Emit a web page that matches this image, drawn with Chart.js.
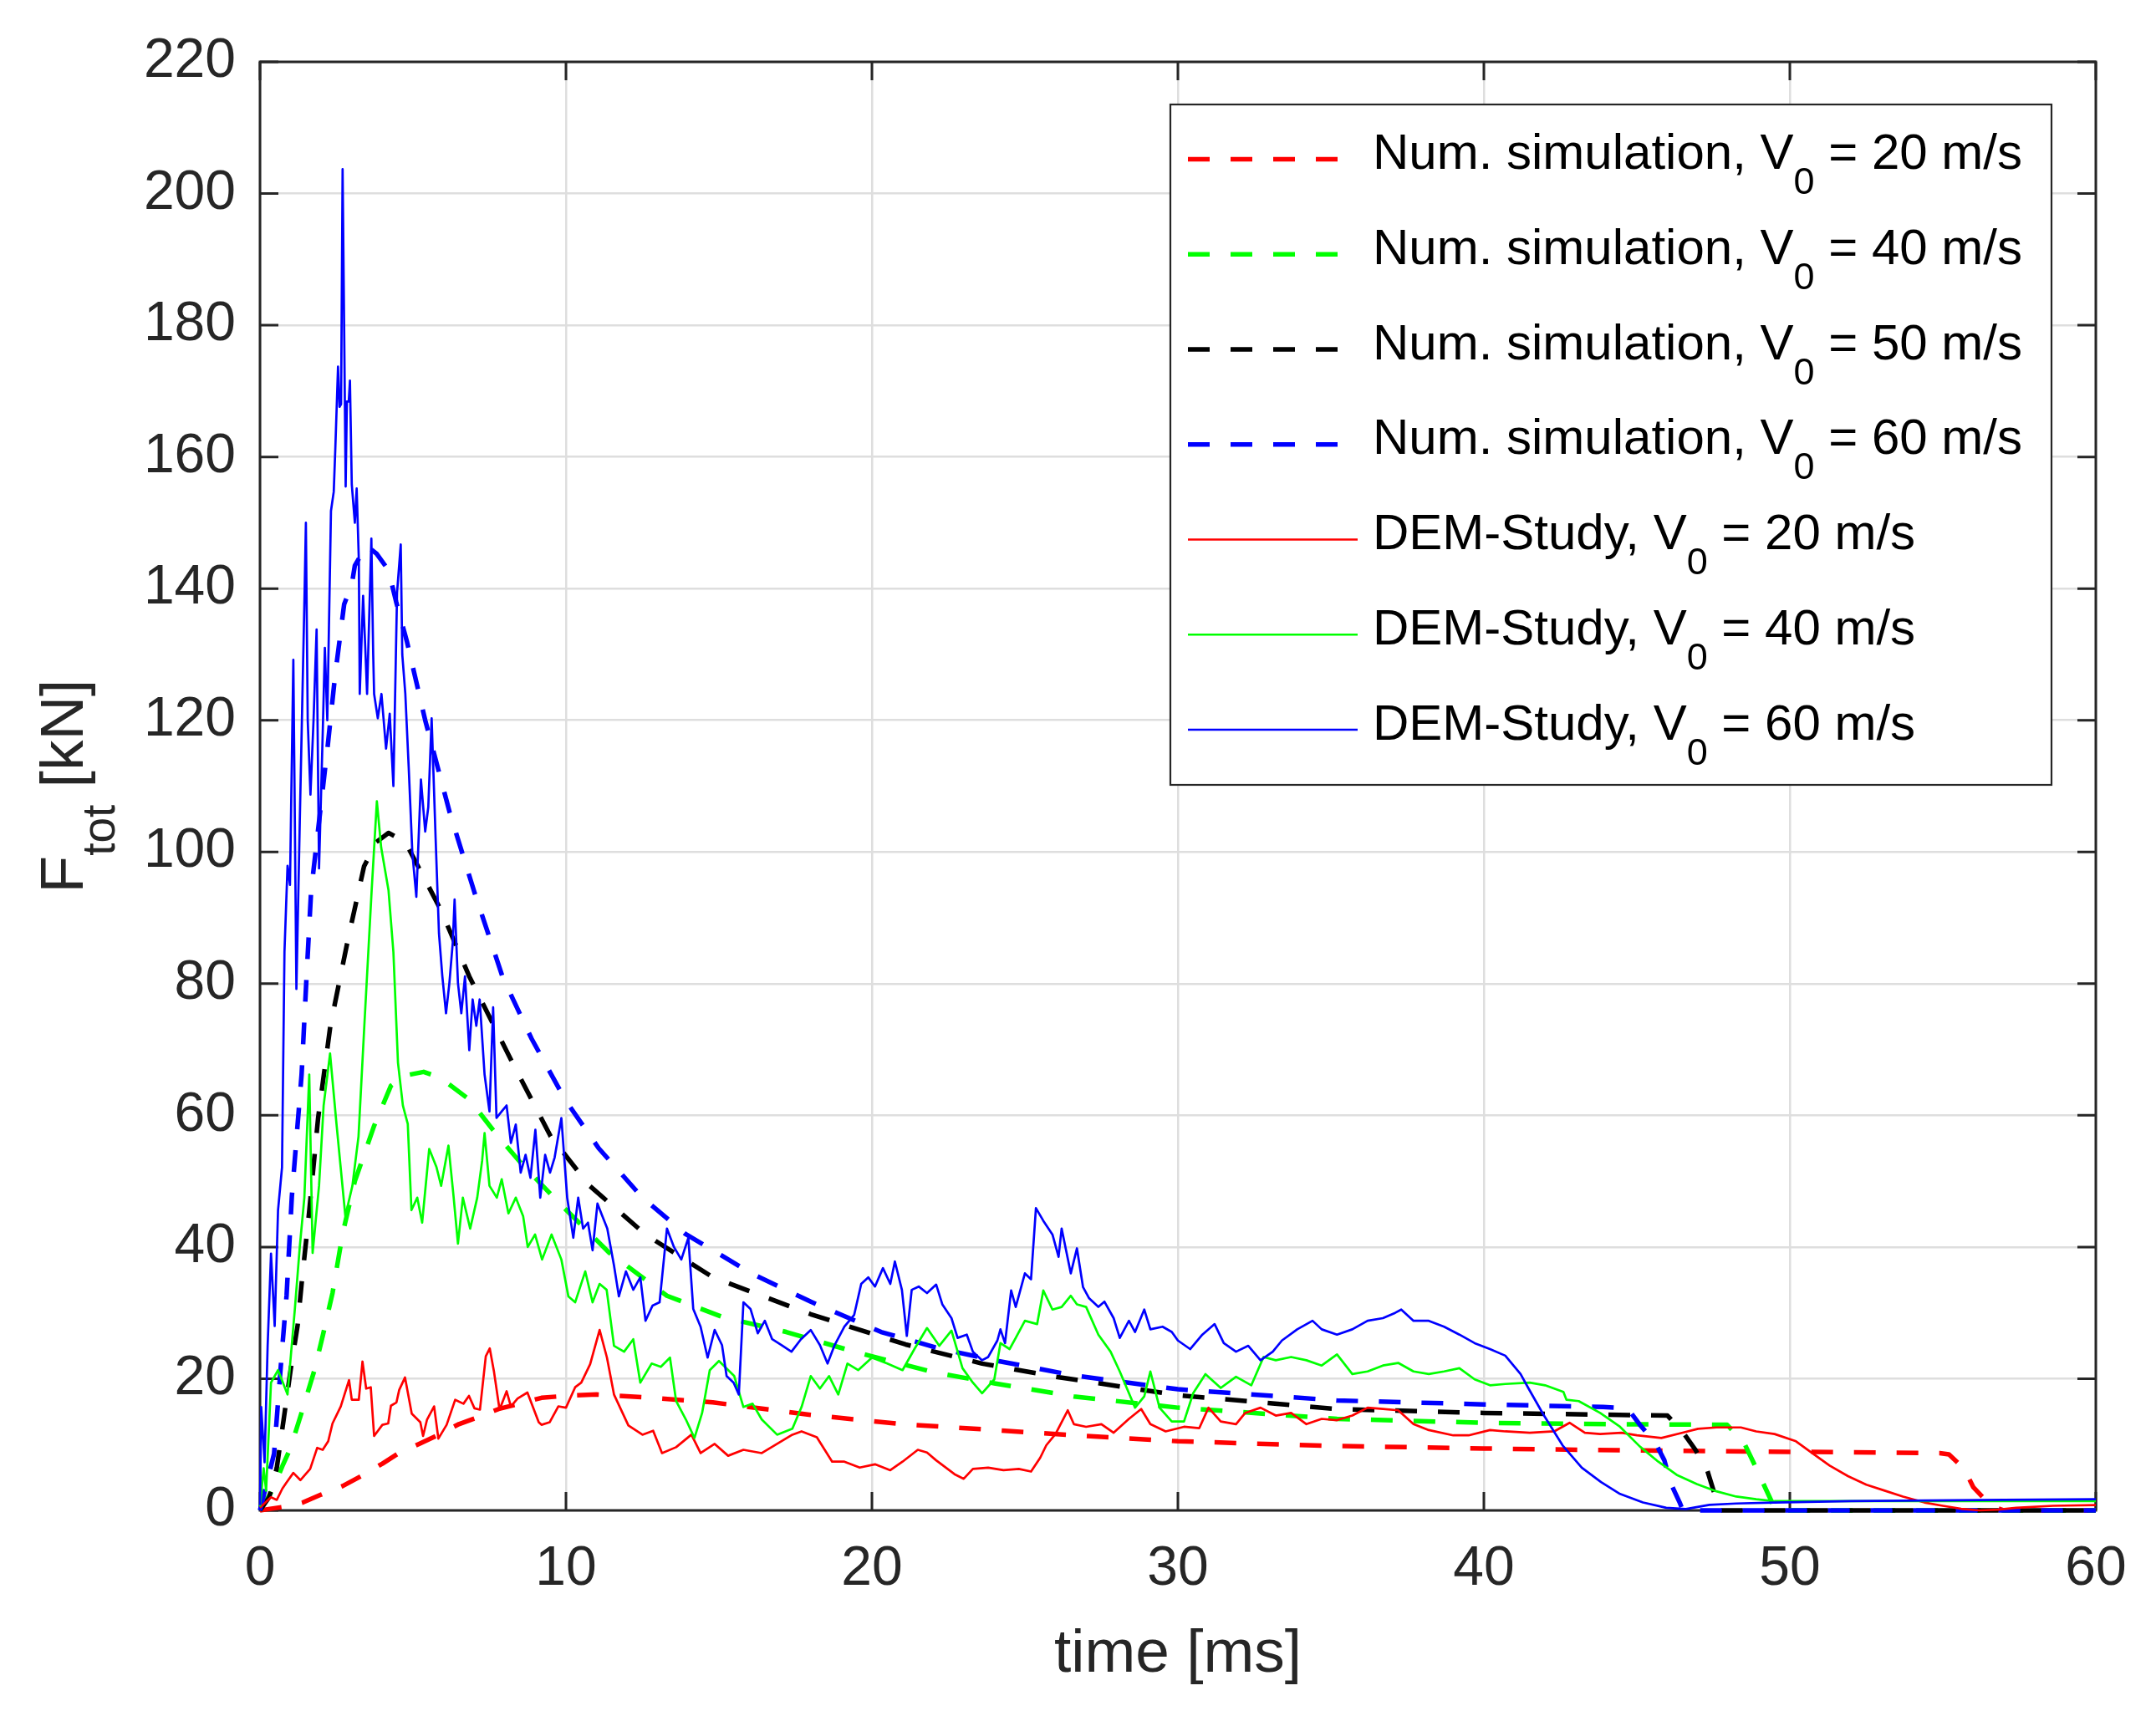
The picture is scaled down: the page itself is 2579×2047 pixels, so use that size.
<!DOCTYPE html>
<html>
<head>
<meta charset="utf-8">
<title>F_tot vs time</title>
<script src="https://cdn.jsdelivr.net/npm/chart.js@4.4.1/dist/chart.umd.min.js"></script>
<style>
  html, body { margin: 0; padding: 0; background: #ffffff; }
  #wrap { width: 2579px; height: 2047px; }
</style>
</head>
<body>
<div id="wrap"><canvas id="forceChart" width="2579" height="2047"></canvas></div>
<script>
// Total contact force over time: numerical simulation vs. DEM study

// Axis ticks
const timeTicks = [0, 10, 20, 30, 40, 50, 60];                                  // time [ms]
const forceTicks = [0, 20, 40, 60, 80, 100, 120, 140, 160, 180, 200, 220];      // F_tot [kN]

// Numerical simulation, [t (ms), F (kN)]
const numSim20 = [[0,0],[1,0.7],[1.4,1.2],[2,2.4],[2.7,3.7],[3.3,5.2],[4,7.1],[4.5,8.6],[5.2,10.1],[5.8,11.4],[6.5,13.1],[7.1,14.1],[7.8,15.4],[8.4,16.1],[9.2,17.1],[10,17.4],[11,17.6],[12.5,17.2],[14.8,16.4],[18,14.5],[21,13.1],[24,12.2],[27,11.3],[30,10.5],[35,9.8],[40,9.4],[45,9.1],[50,8.9],[54.9,8.7],[55.2,8.5],[55.7,6.3],[56,3.5],[56.6,0.6],[57,0],[60,0]];
const numSim40 = [[0,0],[0.4,3],[0.73,6.7],[1,9.5],[1.37,15],[1.78,21.3],[2.05,26.5],[2.37,33],[2.7,42],[3.1,50],[3.73,58.4],[4.28,64.5],[4.7,66],[5.35,66.6],[5.9,65.7],[6.84,62.4],[7.78,56.8],[8.56,52.6],[9.8,46.6],[11.4,39.2],[13.3,32.6],[15.1,29.4],[17.2,27.1],[19.5,24],[22,21],[24,19.3],[26.6,17.3],[30,15.6],[35.2,13.9],[40,13.3],[44,13.1],[47.95,13],[48.5,10.3],[48.8,7.4],[49.1,4.4],[49.4,1.4],[49.5,0],[60,0]];
const numSim50 = [[0,0],[0.3,2],[0.55,6.5],[0.77,13.7],[1,21.3],[1.23,28.1],[1.37,34.9],[1.6,45],[1.9,59.6],[2.3,73.6],[2.87,86.6],[3.4,97.8],[3.8,101.5],[4.2,102.9],[4.75,101.5],[5.9,91.3],[6.84,81.1],[8.25,68],[9.5,56.8],[10.75,49.4],[12.6,41.9],[14.8,35.4],[18,29.8],[21.1,25.2],[23.6,22.3],[26,20.3],[30,17.5],[35.2,15.4],[40,14.8],[46,14.4],[46.5,11.9],[46.9,9.3],[47.3,6.1],[47.5,3.1],[47.7,0],[60,0]];
const numSim60 = [[0,0],[0.46,8.6],[0.72,24.3],[0.87,32.7],[1.04,47.6],[1.36,66.2],[1.51,80],[1.67,94],[1.9,103.4],[2.22,116.4],[2.45,126.6],[2.75,137.6],[3,140.6],[3.1,143.5],[3.48,146.5],[3.81,145.3],[4.2,142.8],[4.45,138],[4.8,132],[5.4,120],[6.2,106],[7,94],[7.93,81],[8.87,71.7],[9.97,62.4],[11.07,55],[12.5,47.5],[13.9,42],[16.1,35.9],[18,31.7],[20.3,27.1],[22.2,24.6],[24,22.8],[26.6,20.5],[30,18.4],[35.2,16.7],[40,16.1],[43.9,15.7],[44.7,15.5],[45.1,13],[45.6,10.3],[45.9,7.6],[46.1,4.2],[46.4,1.2],[46.5,0],[60,0]];

// DEM study, [t (ms), F (kN)]
const demStudy20 = [[0,0.4],[0.36,2],[0.55,1.6],[0.73,3.3],[0.86,4.2],[1.09,5.7],[1.32,4.6],[1.64,6.3],[1.87,9.5],[2.05,9.2],[2.23,10.5],[2.37,13.2],[2.64,15.8],[2.91,19.8],[3,16.8],[3.23,16.8],[3.35,22.6],[3.47,18.5],[3.62,18.7],[3.73,11.3],[4,13],[4.19,13.2],[4.28,15.9],[4.46,16.4],[4.55,18.3],[4.74,20.2],[4.96,14.7],[5.24,13.4],[5.33,11.3],[5.46,13.8],[5.69,15.8],[5.83,10.9],[6.1,13],[6.38,16.8],[6.65,16.2],[6.83,17.4],[7.01,15.5],[7.19,15.3],[7.38,23.4],[7.51,24.6],[7.65,21],[7.83,15.3],[8.06,18.1],[8.2,15.8],[8.42,17],[8.74,17.9],[9.11,13.4],[9.2,13],[9.47,13.4],[9.75,15.8],[10,15.6],[10.3,18.7],[10.5,19.4],[10.79,22.2],[11.1,27.4],[11.34,23.2],[11.57,17.6],[12.04,12.9],[12.5,11.5],[12.85,12.1],[13.14,8.7],[13.6,9.6],[14.1,11.5],[14.4,8.7],[14.86,10.1],[15.3,8.3],[15.8,9.2],[16.4,8.7],[16.9,10.1],[17.4,11.5],[17.7,12],[18.2,11.1],[18.7,7.4],[19.1,7.4],[19.6,6.5],[20.1,7],[20.6,6.1],[21,7.4],[21.5,9.2],[21.8,8.8],[22.1,7.6],[22.7,5.5],[23,4.8],[23.3,6.3],[23.8,6.5],[24.3,6.1],[24.8,6.3],[25.2,5.9],[25.5,8],[25.7,9.9],[26,11.6],[26.4,15.2],[26.6,13.1],[27,12.7],[27.5,13.1],[27.9,11.8],[28.4,13.9],[28.8,15.4],[29.1,13.1],[29.6,12],[30.2,12.7],[30.7,12.5],[31,15.6],[31.4,13.5],[31.9,13.1],[32.2,14.8],[32.7,15.6],[33.2,14.4],[33.7,14.8],[34.2,13.1],[34.7,13.9],[35.2,13.7],[35.7,14.4],[36.2,15.6],[36.7,15.4],[37.2,15.2],[37.7,13.1],[38.2,12.2],[39,11.4],[39.5,11.4],[40.2,12.2],[40.7,12],[41.5,11.8],[42.3,12],[42.8,13.3],[43.3,11.8],[43.8,11.6],[44.5,11.8],[45,11.4],[45.8,11],[46.5,11.8],[47,12.4],[47.6,12.6],[48.4,12.6],[48.9,12],[49.5,11.6],[50.2,10.5],[50.7,8.8],[51.3,6.8],[51.9,5.2],[52.5,3.9],[53.1,3],[53.7,2.1],[54.4,1.2],[55,0.7],[55.6,0.25],[56.2,0],[56.8,0.1],[57.4,0.4],[58.6,0.7],[60,0.8]];
const demStudy40 = [[0,0.6],[0.12,6.4],[0.2,3],[0.36,19.4],[0.59,21.3],[0.9,17.6],[1.14,30.6],[1.3,40],[1.45,47.5],[1.61,66.2],[1.72,39.1],[1.93,49.3],[2.08,61.5],[2.29,69.4],[2.5,58.7],[2.79,44.7],[3.02,49.3],[3.22,56.8],[3.41,73.6],[3.65,94.2],[3.82,107.7],[3.96,100.7],[4.2,94.2],[4.36,84.8],[4.51,68],[4.67,61.5],[4.83,58.7],[4.95,45.6],[5.14,47.5],[5.3,43.7],[5.53,54.9],[5.77,52.1],[5.92,49.3],[6.16,55.4],[6.32,48],[6.47,40.5],[6.63,47.5],[6.87,42.8],[7.1,47.5],[7.26,53.1],[7.34,57.3],[7.5,49.3],[7.74,47.5],[7.9,50.3],[8.12,45.1],[8.36,47.5],[8.6,44.7],[8.75,40],[8.99,41.9],[9.22,38.1],[9.53,41.9],[9.85,38.1],[10.08,32.5],[10.3,31.6],[10.63,36.3],[10.87,31.6],[11.1,34.4],[11.33,33.5],[11.57,25],[11.9,24.1],[12.2,26],[12.43,19.4],[12.8,22.3],[13.1,21.8],[13.4,23.2],[13.6,16.6],[13.92,13.8],[14.2,11],[14.45,14.8],[14.7,21.3],[15,22.7],[15.5,20.4],[15.8,15.7],[16.1,16.2],[16.4,13.8],[16.9,11.5],[17.4,12.4],[17.7,15.7],[18,20.4],[18.3,18.5],[18.6,20.4],[18.9,17.6],[19.2,22.3],[19.55,21.3],[20,23.2],[20.5,22.3],[21,21.3],[21.4,24.6],[21.8,27.7],[22.2,25],[22.6,27.3],[22.96,21.6],[23.3,19.4],[23.6,17.8],[24,19.9],[24.2,25.4],[24.5,24.5],[24.7,26.2],[25,28.8],[25.4,28.3],[25.6,33.4],[25.9,30.5],[26.2,30.9],[26.5,32.6],[26.7,31.3],[27,30.9],[27.4,26.7],[27.8,24.1],[28.1,21.1],[28.4,17.8],[28.6,15.6],[28.9,17.3],[29.1,21.1],[29.4,15.6],[29.8,13.5],[30.2,13.5],[30.5,17.8],[30.9,20.7],[31.4,18.6],[31.9,20.3],[32.4,19],[32.8,23.3],[33.2,22.8],[33.7,23.3],[34.2,22.8],[34.7,22],[35.2,23.7],[35.7,20.7],[36.2,21.1],[36.7,22],[37.2,22.4],[37.7,21.1],[38.2,20.7],[38.7,21.1],[39.2,21.6],[39.7,19.9],[40.2,19],[40.7,19.2],[41.5,19.4],[42,19],[42.6,18],[42.7,16.8],[43.1,16.6],[43.8,14.8],[44.45,12.7],[45.1,9.7],[45.7,7.4],[46.3,5.4],[46.96,4],[47.6,2.9],[48.25,2.1],[48.9,1.7],[49.5,1.4],[51,1.4],[53.3,1.4],[56,1.4],[60,1.4]];
const demStudy60 = [[0,0.8],[0.04,15.7],[0.15,7.3],[0.25,25],[0.36,39],[0.48,28],[0.59,45.6],[0.72,52.1],[0.8,84.8],[0.9,97.9],[0.98,95],[1.09,129.2],[1.19,79.2],[1.3,104.5],[1.38,122.2],[1.46,140],[1.5,150],[1.56,120],[1.65,108.7],[1.75,120],[1.85,133.8],[1.93,97.5],[2.05,118],[2.12,131],[2.2,120],[2.32,151.8],[2.41,154.7],[2.46,161],[2.55,173.7],[2.6,167.6],[2.65,168],[2.7,203.7],[2.75,180],[2.8,155.5],[2.84,168.4],[2.9,168.4],[2.94,171.6],[3,155.8],[3.1,150],[3.16,155.2],[3.23,144.4],[3.26,124],[3.37,138.9],[3.45,130],[3.5,124],[3.64,147.6],[3.7,130],[3.73,124],[3.85,120.3],[3.97,124],[4.12,115.7],[4.24,121],[4.36,110],[4.48,139.4],[4.6,146.7],[4.65,130],[4.75,124],[4.86,112.9],[4.98,99.8],[5.11,93.2],[5.26,111],[5.4,103.1],[5.5,106.8],[5.61,120.3],[5.74,102.1],[5.85,87.6],[5.96,81.1],[6.08,75.5],[6.19,80.1],[6.3,86.2],[6.36,92.8],[6.47,80.1],[6.58,75.5],[6.7,81.1],[6.84,69.9],[6.95,77.6],[7.07,73.6],[7.18,77.6],[7.34,66.2],[7.5,60.6],[7.62,76.4],[7.73,59.6],[7.9,60.6],[8.06,61.5],[8.2,55.8],[8.36,58.6],[8.52,51.3],[8.68,54],[8.84,50.5],[9,57.8],[9.16,47.5],[9.32,54],[9.48,51.3],[9.63,53.6],[9.85,59.6],[10.04,47.5],[10.24,41.4],[10.4,47.5],[10.56,42.8],[10.72,43.7],[10.87,39.5],[11.03,46.6],[11.19,44.7],[11.35,42.8],[11.57,37.2],[11.73,32.5],[11.96,36.3],[12.2,33.5],[12.43,35.4],[12.6,28.8],[12.83,31.1],[13.06,31.6],[13.3,42.8],[13.53,40],[13.77,38.1],[14,41.4],[14.16,30.6],[14.4,27.9],[14.63,23.2],[14.86,27.4],[15.1,25.1],[15.25,20.4],[15.48,19.4],[15.65,17.6],[15.8,31.6],[16.03,30.6],[16.27,26.9],[16.5,28.8],[16.74,26],[17.05,25.1],[17.37,24.1],[17.68,26],[18,27.4],[18.3,25.1],[18.55,22.3],[18.78,25.1],[19.1,27.9],[19.42,29.7],[19.65,34.4],[19.88,35.4],[20.1,34],[20.36,36.8],[20.6,34.4],[20.75,37.8],[20.98,33.5],[21.14,26.5],[21.3,33.5],[21.53,34],[21.8,33],[22.1,34.3],[22.3,31.3],[22.6,29.2],[22.8,26.2],[23.1,26.7],[23.3,24.1],[23.6,22.8],[23.8,23.3],[24.1,25.8],[24.2,27.5],[24.35,25.4],[24.55,33.4],[24.7,30.9],[25,36],[25.2,35.1],[25.36,45.9],[25.6,44],[25.9,41.9],[26.1,38.5],[26.2,42.8],[26.5,36],[26.7,39.8],[26.9,33.9],[27.1,32.2],[27.4,30.9],[27.6,31.7],[27.9,29.2],[28.1,26.2],[28.4,28.8],[28.6,27.1],[28.9,30.5],[29.1,27.5],[29.5,27.9],[29.8,27.1],[30,25.8],[30.4,24.5],[30.8,26.7],[31.2,28.3],[31.5,25.4],[31.9,24.1],[32.3,25],[32.7,22.8],[33.1,24.1],[33.4,25.8],[33.9,27.5],[34.4,28.8],[34.7,27.5],[35.2,26.7],[35.7,27.5],[36.2,28.8],[36.7,29.2],[37.1,30],[37.3,30.5],[37.7,28.8],[38.2,28.8],[38.7,27.9],[39.2,26.7],[39.7,25.4],[40.2,24.5],[40.7,23.5],[41.2,20.7],[41.45,18.6],[41.94,14.6],[42.57,9.9],[43.2,6.5],[43.83,4.3],[44.45,2.5],[45.2,1.2],[45.96,0.4],[46.6,0.2],[47.37,0.85],[48.25,1.05],[49.5,1.2],[52,1.4],[54.5,1.5],[57,1.6],[60,1.7]];

// Legend text is split into [before subscript, subscript, after subscript]
const series = [
  { parts: ['Num. simulation, V', '0', ' = 20 m/s'], data: numSim20,   color: '#ff0000', dashed: true,  order: 7 },
  { parts: ['Num. simulation, V', '0', ' = 40 m/s'], data: numSim40,   color: '#00ff00', dashed: true,  order: 6 },
  { parts: ['Num. simulation, V', '0', ' = 50 m/s'], data: numSim50,   color: '#000000', dashed: true,  order: 5 },
  { parts: ['Num. simulation, V', '0', ' = 60 m/s'], data: numSim60,   color: '#0000ff', dashed: true,  order: 4 },
  { parts: ['DEM-Study, V', '0', ' = 20 m/s'],       data: demStudy20, color: '#ff0000', dashed: false, order: 3 },
  { parts: ['DEM-Study, V', '0', ' = 40 m/s'],       data: demStudy40, color: '#00ff00', dashed: false, order: 2 },
  { parts: ['DEM-Study, V', '0', ' = 60 m/s'],       data: demStudy60, color: '#0000ff', dashed: false, order: 1 }
];

const FONT = "'Liberation Sans', Arial, Helvetica, sans-serif";
const AXIS_COLOR = '#262626';
const GRID_COLOR = '#dedede';
const DASH = [26, 25];
const DASH_WIDTH = 5.5;
const SOLID_WIDTH = 2.7;
const TICK_LEN = 22;

// Draw text made of normal / subscript / normal pieces, returns total width
function drawSubText(ctx, parts, x, y, size, subSize, subShift, measureOnly) {
  let cx = x;
  parts.forEach((txt, i) => {
    const isSub = i % 2 === 1;
    ctx.font = (isSub ? subSize : size) + 'px ' + FONT;
    if (!measureOnly) ctx.fillText(txt, cx, isSub ? y + subShift : y);
    cx += ctx.measureText(txt).width;
  });
  return cx - x;
}

// Box round the plot area with inward ticks on all four sides
const axisBoxPlugin = {
  id: 'axisBox',
  beforeDatasetsDraw(chart) {
    const { ctx, chartArea: a, scales: { x, y } } = chart;
    ctx.save();
    ctx.strokeStyle = AXIS_COLOR;
    ctx.lineWidth = 3;
    ctx.beginPath();
    timeTicks.forEach(v => {
      const px = x.getPixelForValue(v);
      ctx.moveTo(px, a.bottom); ctx.lineTo(px, a.bottom - TICK_LEN);
      ctx.moveTo(px, a.top);    ctx.lineTo(px, a.top + TICK_LEN);
    });
    forceTicks.forEach(v => {
      const py = y.getPixelForValue(v);
      ctx.moveTo(a.left, py);  ctx.lineTo(a.left + TICK_LEN, py);
      ctx.moveTo(a.right, py); ctx.lineTo(a.right - TICK_LEN, py);
    });
    ctx.stroke();
    ctx.strokeRect(a.left, a.top, a.right - a.left, a.bottom - a.top);
    ctx.restore();
  }
};

// Axis titles (y title has a subscript)
const axisTitlePlugin = {
  id: 'axisTitles',
  afterDraw(chart) {
    const { ctx, chartArea: a } = chart;
    ctx.save();
    ctx.fillStyle = AXIS_COLOR;
    ctx.textBaseline = 'alphabetic';

    ctx.font = '73px ' + FONT;
    ctx.textAlign = 'center';
    ctx.fillText('time [ms]', (a.left + a.right) / 2, a.bottom + 193);

    ctx.textAlign = 'left';
    const yParts = ['F', 'tot', ' [kN]'];
    const w = drawSubText(ctx, yParts, 0, 0, 73, 55, 38, true);
    ctx.translate(a.left - 212, (a.top + a.bottom) / 2);
    ctx.rotate(-Math.PI / 2);
    drawSubText(ctx, yParts, -w / 2, 0, 73, 55, 38, false);
    ctx.restore();
  }
};

// Boxed legend in the upper right corner
const legendPlugin = {
  id: 'boxLegend',
  afterDraw(chart) {
    const { ctx, chartArea: a } = chart;
    const box = { left: a.right - 1107, top: a.top + 51, right: a.right - 53, bottom: a.top + 865 };
    const rowStep = 113.75;
    ctx.save();
    ctx.fillStyle = '#ffffff';
    ctx.fillRect(box.left, box.top, box.right - box.left, box.bottom - box.top);
    ctx.strokeStyle = AXIS_COLOR;
    ctx.lineWidth = 2.2;
    ctx.strokeRect(box.left, box.top, box.right - box.left, box.bottom - box.top);

    series.forEach((s, i) => {
      const rowY = box.top + 65.5 + i * rowStep;
      ctx.beginPath();
      ctx.strokeStyle = s.color;
      ctx.lineWidth = s.dashed ? DASH_WIDTH : SOLID_WIDTH;
      ctx.setLineDash(s.dashed ? DASH : []);
      ctx.moveTo(box.left + 21, rowY);
      ctx.lineTo(box.left + 224, rowY);
      ctx.stroke();
      ctx.setLineDash([]);

      ctx.fillStyle = '#000000';
      ctx.textAlign = 'left';
      ctx.textBaseline = 'alphabetic';
      drawSubText(ctx, s.parts, box.left + 242, rowY + 11.5, 60, 45, 30, false);
    });
    ctx.restore();
  }
};

document.addEventListener('DOMContentLoaded', function () {
  const datasets = series.map(s => ({
    label: s.parts[0] + '\u2080' + s.parts[2],
    data: s.data.map(p => ({ x: p[0], y: p[1] })),
    borderColor: s.color,
    backgroundColor: s.color,
    borderWidth: s.dashed ? DASH_WIDTH : SOLID_WIDTH,
    borderDash: s.dashed ? DASH : [],
    borderJoinStyle: 'round',
    pointRadius: 0,
    tension: 0,
    fill: false,
    clip: false,
    order: s.order
  }));

  const tickFont = { family: FONT, size: 66 };

  new Chart(document.getElementById('forceChart'), {
    type: 'line',
    data: { datasets: datasets },
    options: {
      responsive: false,
      animation: false,
      devicePixelRatio: 1,
      layout: { padding: { top: 74, right: 72, bottom: 0, left: 0 } },
      plugins: {
        legend: { display: false },
        tooltip: { enabled: false }
      },
      scales: {
        x: {
          type: 'linear',
          min: 0,
          max: 60,
          afterBuildTicks: scale => { scale.ticks = timeTicks.map(v => ({ value: v })); },
          afterFit: scale => { scale.height = 240; },
          ticks: { font: tickFont, color: AXIS_COLOR, padding: 31, maxRotation: 0 },
          grid: { color: GRID_COLOR, lineWidth: 2.5, drawTicks: false },
          border: { display: false }
        },
        y: {
          type: 'linear',
          min: 0,
          max: 220,
          afterBuildTicks: scale => { scale.ticks = forceTicks.map(v => ({ value: v })); },
          afterFit: scale => { scale.width = 311; },
          ticks: { font: tickFont, color: AXIS_COLOR, padding: 29 },
          grid: { color: GRID_COLOR, lineWidth: 2.5, drawTicks: false },
          border: { display: false }
        }
      }
    },
    plugins: [axisBoxPlugin, axisTitlePlugin, legendPlugin]
  });
});
</script>
</body>
</html>
